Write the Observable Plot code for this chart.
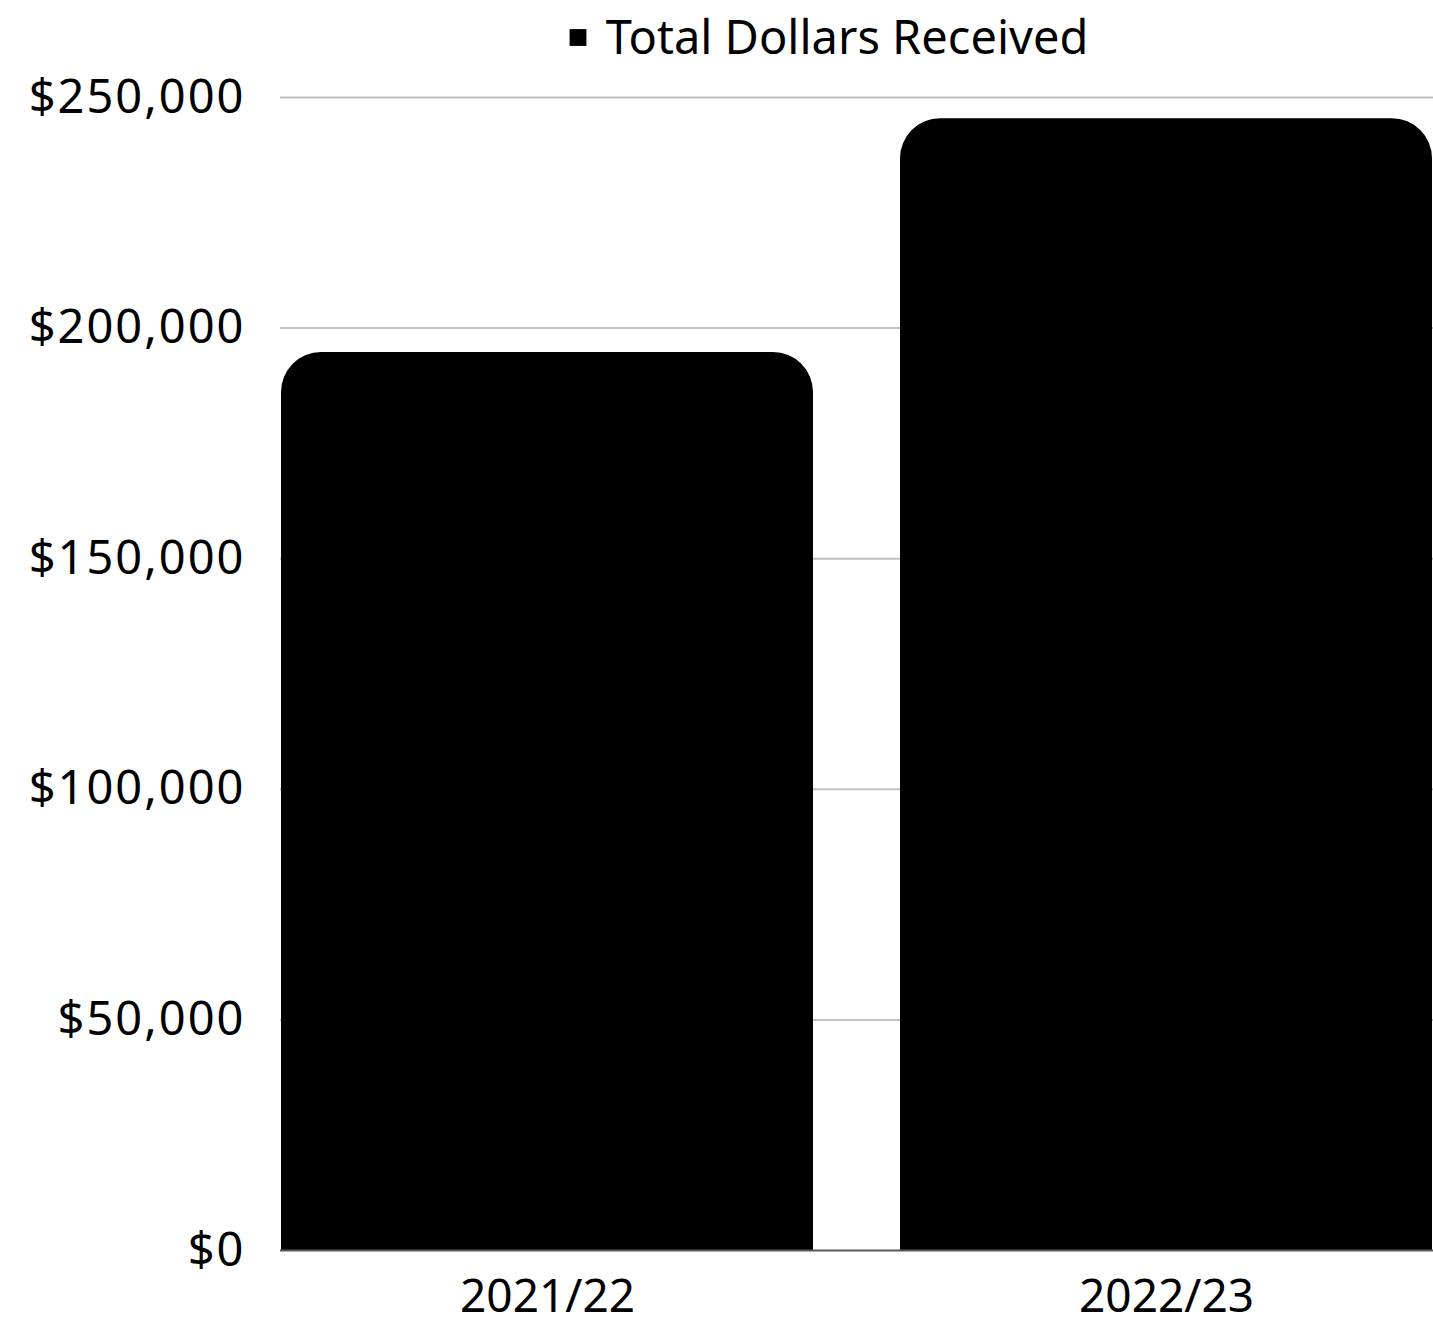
<!DOCTYPE html>
<html>
<head>
<meta charset="utf-8">
<script src="https://cdn.jsdelivr.net/npm/d3@7"></script>
<script src="https://cdn.jsdelivr.net/npm/@observablehq/plot@0.6"></script>
<style>
  html, body { margin: 0; padding: 0; background: #fff; }
  body { width: 1433px; font-family: "Noto Sans", sans-serif; }
  svg { display: block; overflow: visible; }
  g[aria-label="y-axis tick label"] text { letter-spacing: 2px; }
</style>
</head>
<body>
<div id="chart"></div>
<script>
const years = ["2021/22", "2022/23"];
const dollars = [194700, 245400];
const yTicks = [0, 50000, 100000, 150000, 200000, 250000];
const seriesName = "Total Dollars Received";

const data = years.map((y, i) => ({year: y, value: dollars[i], series: seriesName}));

const fmt = d => "$" + d3.format(",")(d);

const chart = Plot.plot({
  width: 1433,
  height: 1323,
  marginLeft: 280,
  marginRight: 0,
  marginTop: 97,
  marginBottom: 73,
  style: {fontFamily: "'Noto Sans', sans-serif", fontSize: "46px", color: "#000", background: "#fff"},
  x: {domain: years, paddingInner: 0.14, paddingOuter: 0, label: null},
  y: {domain: [0, 250000], label: null},
  marks: [
    Plot.ruleY(yTicks.filter(d => d > 0), {stroke: "#c0c0c0", strokeWidth: 2}),
    Plot.barY(data, {x: "year", y: "value", fill: "#000", ry1: 40}),
    Plot.ruleY([0], {stroke: "#595959", strokeWidth: 2}),
    Plot.axisY({ticks: yTicks, tickFormat: fmt, tickSize: 0, tickPadding: 35, fontSize: 47, label: null}),
    Plot.axisX({tickSize: 0, tickPadding: 29, fontSize: 46, label: null}),
    // legend
    Plot.dot([seriesName], {frameAnchor: "top", dx: -279, dy: -60, symbol: "square", r: 9.5, fill: "#000", stroke: null}),
    Plot.text([seriesName], {frameAnchor: "top", dx: -10, dy: -77, text: d => d, fontSize: 47, fill: "#000"})
  ]
});
document.getElementById("chart").appendChild(chart);
</script>
</body>
</html>
